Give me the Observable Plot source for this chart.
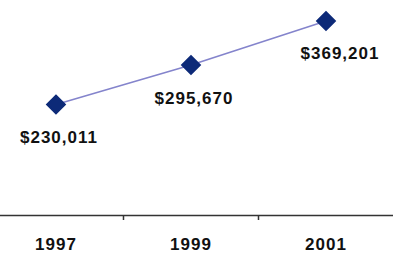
<!DOCTYPE html>
<html>
<head>
<meta charset="utf-8">
<script src="https://cdn.jsdelivr.net/npm/d3@7"></script>
<script src="https://cdn.jsdelivr.net/npm/@observablehq/plot@0.6"></script>
<style>
  html, body { margin: 0; padding: 0; background: #fff; }
</style>
</head>
<body>
<div id="chart"></div>
<script>
const years = [1997, 1999, 2001];
const values = [230011, 295670, 369201];
const valueLabels = ["$230,011", "$295,670", "$369,201"];
const tickLabels = ["1997", "1999", "2001"];

const data = years.map((y, i) => ({year: y, value: values[i], label: valueLabels[i]}));
const font = "'Liberation Sans', Arial, Helvetica, sans-serif";

const chart = Plot.plot({
  width: 393,
  height: 254,
  marginTop: 0,
  marginBottom: 39,
  marginLeft: 0,
  marginRight: 0,
  style: {fontFamily: font, background: "#fff"},
  x: {type: "linear", domain: [1996.178, 2002], range: [0, 393], label: null},
  y: {domain: [45000, 403333], axis: null, label: null},
  marks: [
    Plot.ruleY([45000], {stroke: "#333", strokeWidth: 1.5}),
    Plot.axisX({ticks: [1998, 2000], tickSize: 5, tickFormat: () => "", stroke: "#333", strokeWidth: 1.5, label: null}),
    Plot.axisX({ticks: years, tickSize: 0, tickPadding: 22, tickFormat: (d) => tickLabels[years.indexOf(d)],
      fontSize: 17, fontWeight: "bold", fill: "#111", label: null}),
    Plot.line(data, {x: "year", y: "value", stroke: "#8484cc", strokeWidth: 1.6}),
    Plot.dot(data, {x: "year", y: "value", symbol: "diamond2", r: 8.3, fill: "#0d2a78", stroke: "#0d2a78"}),
    Plot.text(data.slice(0, 2), {x: "year", y: "value", text: "label", dy: 33, dx: 3,
      fontSize: 17, fontWeight: "bold", fill: "#111"}),
    Plot.text(data.slice(2), {x: "year", y: "value", text: "label", dy: 33, dx: 14,
      fontSize: 17, fontWeight: "bold", fill: "#111"})
  ]
});
chart.querySelectorAll("text").forEach(t => t.style.letterSpacing = "1px");
document.getElementById("chart").appendChild(chart);
</script>
</body>
</html>
